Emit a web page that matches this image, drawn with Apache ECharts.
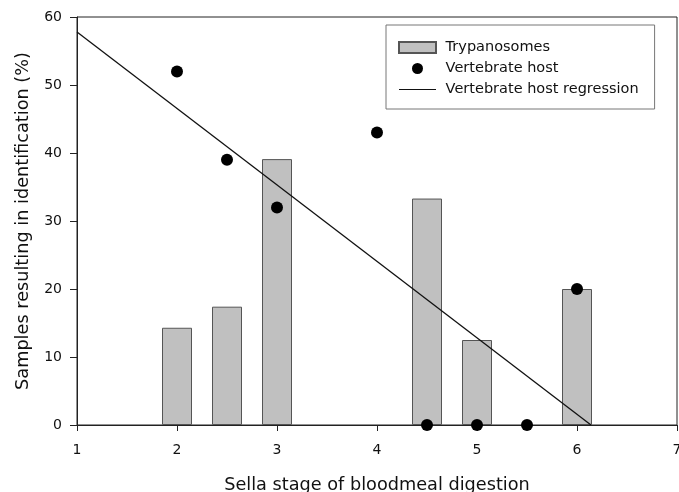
<!DOCTYPE html>
<html>
<head>
<meta charset="utf-8">
<script src="https://cdn.jsdelivr.net/npm/echarts@6/dist/echarts.min.js"></script>
<style>
  html, body { margin: 0; padding: 0; background: #fff; }
  #chart { width: 679px; height: 492px; }
</style>
</head>
<body>
<div id="chart"></div>
<script>
// trypanosome bars
var barStages = [2, 2.5, 3, 4.5, 5, 6];
var barValues = [14.3, 17.4, 39.1, 33.3, 12.5, 20];
// vertebrate host points
var hostStages = [2, 2.5, 3, 4, 4.5, 5, 5.5, 6];
var hostValues = [52, 39, 32, 43, 0, 0, 0, 20];
// regression line end points
var regStages = [1, 6.14];
var regValues = [57.8, 0];

var xTicks = [1, 2, 3, 4, 5, 6, 7];
var yTicks = [0, 10, 20, 30, 40, 50, 60];

function pairs(xs, ys) {
  return xs.map(function (x, i) { return [x, ys[i]]; });
}

var myChart = echarts.init(document.getElementById('chart'));
var font = 'DejaVu Sans, Liberation Sans, sans-serif';

var option = {
  animation: false,
  grid: {
    left: 77, right: 2, top: 17, bottom: 67,
    outerBoundsMode: 'none',
    containLabel: false,
    show: true, borderColor: '#222', borderWidth: 1, backgroundColor: 'transparent'
  },
  legend: {
    orient: 'vertical',
    left: 386, top: 25,
    padding: [15, 16, 12, 12],
    borderColor: '#777', borderWidth: 1,
    itemWidth: 37, itemHeight: 11, itemGap: 6,
    textStyle: { fontFamily: font, fontSize: 14.5, color: '#111' },
    formatter: function (name) { return ' ' + name; },
    data: [
      { name: 'Trypanosomes', icon: 'rect' },
      { name: 'Vertebrate host', icon: 'circle' },
      { name: 'Vertebrate host regression', icon: 'path://M0,0 L37,0 L37,1.2 L0,1.2 Z' }
    ]
  },
  xAxis: {
    type: 'value',
    min: xTicks[0], max: xTicks[xTicks.length - 1], interval: 1,
    name: 'Sella stage of bloodmeal digestion',
    nameLocation: 'middle', nameGap: 51,
    nameTextStyle: { fontFamily: font, fontSize: 17.7, color: '#111' },
    axisLine: { lineStyle: { color: '#222', width: 1 } },
    axisTick: { show: true, inside: false, length: 6, lineStyle: { color: '#222' } },
    axisLabel: { fontFamily: font, fontSize: 14, color: '#111', margin: 18 },
    splitLine: { show: false }
  },
  yAxis: {
    type: 'value',
    min: yTicks[0], max: yTicks[yTicks.length - 1], interval: 10,
    name: 'Samples resulting in identification (%)',
    nameLocation: 'middle', nameGap: 45,
    nameTextStyle: { fontFamily: font, fontSize: 17.7, color: '#111' },
    axisLine: { show: true, lineStyle: { color: '#222', width: 1 } },
    axisTick: { show: true, inside: false, length: 7, lineStyle: { color: '#222' } },
    axisLabel: { fontFamily: font, fontSize: 14, color: '#111', margin: 15 },
    splitLine: { show: false }
  },
  series: [
    {
      name: 'Trypanosomes',
      type: 'bar',
      barWidth: 30,
      data: pairs(barStages, barValues),
      itemStyle: { color: '#c0c0c0', borderColor: '#555', borderWidth: 1 },
      z: 2
    },
    {
      name: 'Vertebrate host regression',
      type: 'line',
      data: pairs(regStages, regValues),
      symbol: 'none',
      lineStyle: { color: '#111', width: 1.3 },
      itemStyle: { color: '#111' },
      z: 3
    },
    {
      name: 'Vertebrate host',
      type: 'scatter',
      data: pairs(hostStages, hostValues),
      symbol: 'circle',
      symbolSize: 12,
      clip: false,
      itemStyle: { color: '#000', opacity: 1 },
      z: 4
    }
  ]
};
myChart.setOption(option);
</script>
</body>
</html>
